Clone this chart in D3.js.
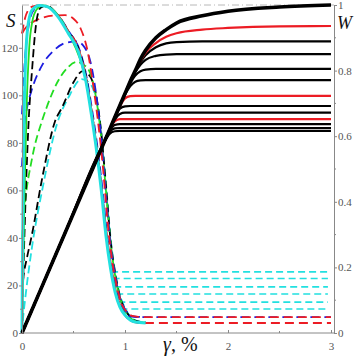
<!DOCTYPE html>
<html>
<head>
<meta charset="utf-8">
<script src="https://cdn.jsdelivr.net/npm/d3@7"></script>
<style>
body { margin: 0; background: #fff; }
svg { display: block; }
.axis text { font-family: "Liberation Serif", serif; font-size: 11px; fill: #555; }
.axis path, .axis line { stroke: #888; }
.ttl { font-family: "Liberation Serif", serif; font-style: italic; fill: #111; }
</style>
</head>
<body>
<div id="chart"></div>
<script>
// S curves (left axis), pairs of [gamma, S]
const cyanSolid = [[0,0],[0.004,25],[0.01,55],[0.02,90],[0.035,115],[0.06,130],[0.1,136],[0.17,137.8],[0.25,137.2],[0.35,133],[0.45,126],[0.55,118],[0.62,106],[0.67,93],[0.72,78],[0.77,60],[0.815,41],[0.86,27],[0.905,17],[0.95,11],[1.0,7.5],[1.05,5.5],[1.1,4.6],[1.2,4.2]];
const greenSolid = [[0,0],[0.01,25],[0.025,60],[0.045,95],[0.07,120],[0.1,131],[0.14,136],[0.2,137.8],[0.3,136],[0.4,130.5],[0.5,122],[0.6,110],[0.67,94],[0.72,79],[0.77,61],[0.815,42],[0.86,28],[0.905,18],[0.95,11.5],[1.0,7.8],[1.05,5.7],[1.1,4.7],[1.2,4.2]];
const blackDash1 = [[0,0],[0.01,20],[0.03,50],[0.06,85],[0.1,112],[0.14,131],[0.18,136.8],[0.24,137.8],[0.35,133.5],[0.45,127],[0.55,119.5],[0.62,108],[0.67,95],[0.72,80],[0.77,62],[0.815,43],[0.86,28.5],[0.905,18],[0.95,11.5],[1.0,7.6],[1.05,5.5],[1.1,4.6],[1.2,4.2]];
const redUpper = [[0,126],[0.01,128.5],[0.03,132.5],[0.06,135.8],[0.1,137.3],[0.17,137.8],[0.25,137.2],[0.35,133.5],[0.45,127],[0.55,119.5],[0.62,108],[0.67,95],[0.72,80],[0.77,62],[0.82,43],[0.865,28.5],[0.91,18],[0.955,11.5],[1.0,7.5],[1.05,5.3],[1.1,4.5],[1.2,4.2],[3,4.2]];
const redOuter = [[0,126],[0.02,127.5],[0.06,129.5],[0.12,131.2],[0.2,132.6],[0.3,133.5],[0.42,133.7],[0.5,132.2],[0.57,128],[0.635,119],[0.685,106],[0.735,90],[0.785,70],[0.835,45],[0.88,29],[0.925,19],[0.97,12],[1.02,8.8],[1.07,7.2],[1.13,6.8],[1.2,6.7],[3,6.7]];
const blueUpper = [[0,92],[0.01,101],[0.025,113],[0.05,125],[0.08,132.5],[0.12,136.3],[0.18,137.7],[0.26,137],[0.36,133.2],[0.46,126.5],[0.56,119],[0.63,107],[0.68,94],[0.73,79],[0.78,61],[0.825,42],[0.87,28],[0.915,18],[0.96,11.5],[1.01,8],[1.06,6.9],[1.12,6.7],[3,6.7]];
const blueLower = [[0,70],[0.01,80],[0.03,90],[0.05,95],[0.1,103],[0.2,113],[0.3,118.5],[0.42,122],[0.53,122.7],[0.61,120],[0.665,114],[0.715,102],[0.765,84],[0.815,58],[0.86,37],[0.905,24],[0.95,15],[1.0,10],[1.05,7.6],[1.1,6.9],[1.2,6.7]];
const greenDash = [[0,40],[0.01,46],[0.03,55],[0.1,74],[0.2,90],[0.24,95],[0.35,106],[0.44,111.5],[0.53,114],[0.61,112.5],[0.665,109],[0.715,100],[0.765,84],[0.815,60],[0.86,38],[0.905,24],[0.95,15],[1.0,9.5],[1.05,6.5],[1.1,5],[1.2,4.3]];
const blackDash2 = [[0,17],[0.01,22],[0.05,32],[0.09,40],[0.2,66],[0.32,89],[0.39,95],[0.5,105.5],[0.59,110.2],[0.66,108],[0.715,101],[0.765,86],[0.815,62],[0.86,39],[0.905,25],[0.95,15.5],[1.0,10],[1.05,6.8],[1.1,5.2],[1.2,4.4]];
const cyanDash2 = [[0,0],[0.01,6],[0.03,14],[0.1,37],[0.2,61],[0.34,88],[0.45,99],[0.58,106.8],[0.66,105],[0.715,99],[0.765,86],[0.815,63],[0.86,40],[0.905,25.5],[0.95,16],[1.0,10.5],[1.05,7],[1.1,5.3],[1.2,4.5]];

// cyan dashed plateau branches
const cyanPlateauS = [25.7, 22.9, 19.4, 16.4, 13, 10.1];
const cyanPlateauStart = [0.865, 0.88, 0.895, 0.915, 0.935, 0.955];
const cyanPlateauEnd = 2.97;

// W curves (right axis), shared gamma grid
const wGamma = [0, 0.4, 0.8, 0.85, 0.9, 0.95, 1.0, 1.05, 1.1, 1.15, 1.2, 1.3, 1.4, 1.5, 1.75, 2.0, 2.5, 3.0];
const w100 = [0,.292,.584,.62,.657,.694,.73,.767,.80,.835,.862,.90,.925,.945,.967,.981,.994,1.0];
const w936 = [0,.292,.584,.62,.657,.694,.73,.767,.80,.83,.855,.884,.903,.914,.925,.930,.935,.936];
const w889 = [0,.292,.584,.62,.657,.694,.73,.767,.798,.826,.847,.871,.883,.887,.889,.889,.889,.889];
const w850 = [0,.292,.584,.62,.657,.694,.73,.765,.795,.818,.833,.845,.849,.85,.85,.85,.85,.85];
const w805 = [0,.292,.584,.62,.657,.694,.728,.76,.785,.798,.803,.805,.805,.805,.805,.805,.805,.805];
const w771 = [0,.292,.584,.62,.657,.693,.726,.752,.766,.77,.771,.771,.771,.771,.771,.771,.771,.771];
const w723 = [0,.292,.584,.62,.656,.69,.715,.722,.723,.723,.723,.723,.723,.723,.723,.723,.723,.723];
const w692 = [0,.292,.584,.62,.655,.684,.691,.692,.692,.692,.692,.692,.692,.692,.692,.692,.692,.692];
const w672 = [0,.292,.584,.62,.65,.668,.672,.672,.672,.672,.672,.672,.672,.672,.672,.672,.672,.672];
const w652 = [0,.292,.584,.618,.645,.652,.652,.652,.652,.652,.652,.652,.652,.652,.652,.652,.652,.652];
const w637 = [0,.292,.584,.616,.634,.637,.637,.637,.637,.637,.637,.637,.637,.637,.637,.637,.637,.637];
const w625 = [0,.292,.583,.612,.624,.625,.625,.625,.625,.625,.625,.625,.625,.625,.625,.625,.625,.625];
const w616 = [0,.292,.582,.607,.615,.616,.616,.616,.616,.616,.616,.616,.616,.616,.616,.616,.616,.616];

const sTicks = [0, 20, 40, 60, 80, 100, 120];
const sMinor = [10, 30, 50, 70, 90, 110, 130];
const wTicks = [0, 0.2, 0.4, 0.6, 0.8, 1];
const wMinor = [0.1, 0.3, 0.5, 0.7, 0.9];
const gTicks = [0, 1, 2, 3];
const gMinor = [0.5, 1.5, 2.5];

const RED = "#ec1c24", BLUE = "#1c1ce0", GREEN = "#22dd22", CYAN = "#22e0e0", BLACK = "#000";

const width = 355, height = 358;
const svg = d3.select("#chart").append("svg")
    .attr("width", width).attr("height", height);

const x = d3.scaleLinear().domain([0, 3]).range([22, 331]);
const yS = d3.scaleLinear().domain([0, 138]).range([333, 5]);
const yW = d3.scaleLinear().domain([0, 1]).range([333, 5]);
const axisRightX = 334;

// top dash-dot reference line
svg.append("line")
    .attr("x1", x(0)).attr("x2", axisRightX)
    .attr("y1", yW(1)).attr("y2", yW(1))
    .attr("stroke", "#b8b8b8").attr("stroke-width", 1)
    .attr("stroke-dasharray", "7,3,1,3");

const lineS = d3.line().x(d => x(d[0])).y(d => yS(d[1])).curve(d3.curveMonotoneX);

// cyan dashed plateaus
cyanPlateauS.forEach((s, i) => {
    svg.append("path")
        .attr("d", lineS([[cyanPlateauStart[i], s], [cyanPlateauEnd, s]]))
        .attr("fill", "none").attr("stroke", CYAN).attr("stroke-width", 1.6)
        .attr("stroke-dasharray", "7,4");
});

const sSeries = [
    {pts: cyanDash2, color: CYAN, w: 1.8, dash: "8,4"},
    {pts: blackDash2, color: BLACK, w: 1.8, dash: "8,4"},
    {pts: greenDash, color: GREEN, w: 1.8, dash: "8,4"},
    {pts: blueLower, color: BLUE, w: 1.8, dash: "9,5"},
    {pts: blueUpper, color: BLUE, w: 1.8, dash: "9,5"},
    {pts: redOuter, color: RED, w: 1.8, dash: "9,5"},
    {pts: blackDash1, color: BLACK, w: 1.8, dash: "8,4"},
    {pts: greenSolid, color: GREEN, w: 1.8, dash: null},
    {pts: redUpper, color: RED, w: 1.8, dash: "9,5"},
    {pts: cyanSolid, color: CYAN, w: 3, dash: null}
];

sSeries.forEach(s => {
    svg.append("path")
        .attr("d", lineS(s.pts))
        .attr("fill", "none")
        .attr("stroke", s.color)
        .attr("stroke-width", s.w)
        .attr("stroke-dasharray", s.dash);
});

// W curves
const lineW = d3.line().x((d, i) => x(wGamma[i])).y(d => yW(d)).curve(d3.curveMonotoneX);
const wSeries = [
    {v: w616, color: BLACK}, {v: w625, color: BLACK}, {v: w637, color: BLACK},
    {v: w652, color: RED}, {v: w672, color: BLACK}, {v: w692, color: BLACK},
    {v: w723, color: RED}, {v: w771, color: BLACK}, {v: w805, color: BLACK},
    {v: w850, color: BLACK}, {v: w889, color: BLACK}, {v: w936, color: RED},
    {v: w100, color: BLACK, w: 3.6}
];
wSeries.forEach(s => {
    svg.append("path")
        .attr("d", lineW(s.v))
        .attr("fill", "none")
        .attr("stroke", s.color)
        .attr("stroke-width", s.w || 2.2);
});

// axes
const gx = svg.append("g").attr("class", "axis")
    .attr("transform", "translate(0," + yS(0) + ")")
    .call(d3.axisBottom(x).tickValues(gTicks).tickFormat(d3.format("d"))
        .tickSizeInner(-3).tickSizeOuter(0).tickPadding(9));
gx.select(".domain").attr("d", "M" + x(0) + ",0H" + axisRightX);

const gl = svg.append("g").attr("class", "axis")
    .attr("transform", "translate(" + x(0) + ",0)")
    .call(d3.axisLeft(yS).tickValues(sTicks).tickSize(3).tickSizeOuter(0).tickPadding(1));

const gr = svg.append("g").attr("class", "axis")
    .attr("transform", "translate(" + axisRightX + ",0)")
    .call(d3.axisRight(yW).tickValues(wTicks).tickSize(3).tickSizeOuter(0).tickPadding(1)
        .tickFormat(d => (d === 0 || d === 1) ? String(d) : d.toFixed(1)));

// minor ticks
svg.append("g").selectAll("line").data(sMinor).join("line")
    .attr("x1", x(0) - 2).attr("x2", x(0))
    .attr("y1", d => yS(d)).attr("y2", d => yS(d))
    .attr("stroke", "#888");
svg.append("g").selectAll("line").data(wMinor).join("line")
    .attr("x1", axisRightX).attr("x2", axisRightX + 2)
    .attr("y1", d => yW(d)).attr("y2", d => yW(d))
    .attr("stroke", "#888");
svg.append("g").selectAll("line").data(gMinor).join("line")
    .attr("x1", d => x(d)).attr("x2", d => x(d))
    .attr("y1", yS(0) - 2).attr("y2", yS(0))
    .attr("stroke", "#888");

// axis titles
svg.append("text").attr("class", "ttl")
    .attr("x", 6).attr("y", 27).attr("font-size", 19).text("S");
svg.append("text").attr("class", "ttl")
    .attr("x", 337).attr("y", 29).attr("font-size", 18).text("W");
const gt = svg.append("text").attr("class", "ttl")
    .attr("x", 163).attr("y", 351).attr("font-size", 20);
gt.append("tspan").text("γ");
gt.append("tspan").attr("font-style", "normal").text(", %");
</script>
</body>
</html>
